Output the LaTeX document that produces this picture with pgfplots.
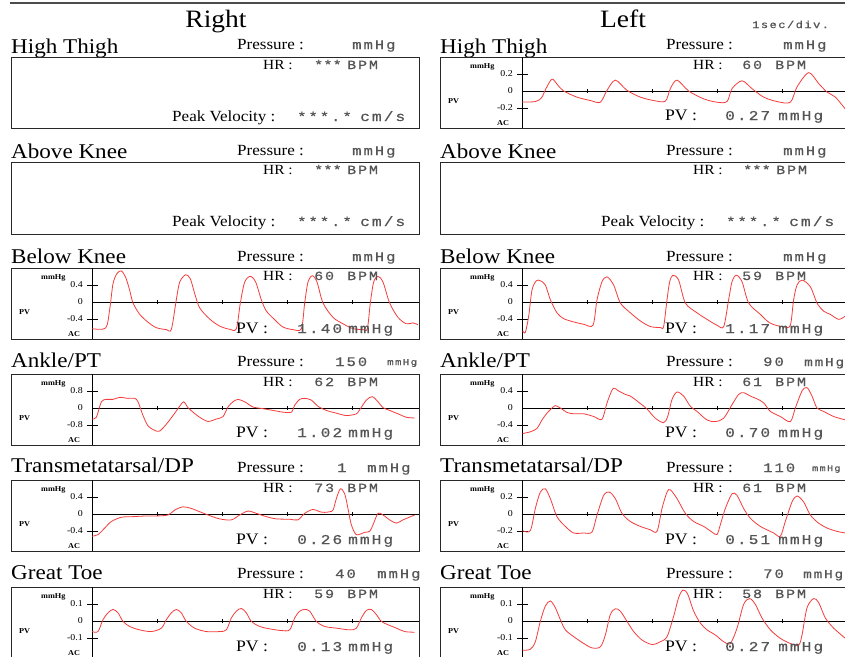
\documentclass[border=0pt]{standalone}
\usepackage{fontspec}
\setmainfont{Liberation Serif}[FakeStretch=1.1]
\newfontfamily\mono{Liberation Mono}[FakeStretch=1.2,LetterSpace=15,FakeBold=0.6]
\usepackage{pgfplots}
\usepackage{pgfplotstable}
\pgfplotsset{compat=1.18}
\definecolor{pvred}{RGB}{245,60,60}
\definecolor{txtgray}{RGB}{85,85,85}
\definecolor{frame}{RGB}{40,40,40}

% ---------- data (t in s, PV in mmHg) ----------
\pgfplotstableread{
t v
0.000 -0.130
0.205 -0.124
0.300 -0.080
0.370 0.030
0.462 0.140
0.550 0.070
0.641 0.000
0.846 -0.072
1.051 -0.112
1.205 -0.132
1.308 0.008
1.436 0.128
1.615 0.008
1.821 -0.072
2.026 -0.112
2.205 -0.120
2.282 0.028
2.385 0.128
2.564 0.000
2.795 -0.092
3.000 -0.132
3.154 -0.124
3.231 0.028
3.385 0.120
3.538 0.028
3.718 -0.072
3.923 -0.124
4.128 -0.132
4.231 0.048
4.410 0.216
4.564 0.088
4.692 -0.012
4.821 -0.072
4.974 -0.212
}\dA
\pgfplotstableread{
t v
0.000 -0.627
0.210 -0.612
0.272 -0.174
0.323 0.430
0.385 0.672
0.451 0.732
0.518 0.581
0.579 0.279
0.631 -0.023
0.733 -0.287
0.862 -0.476
0.990 -0.604
1.144 -0.649
1.221 -0.642
1.297 0.053
1.349 0.468
1.441 0.642
1.513 0.544
1.579 0.204
1.656 -0.136
1.810 -0.400
1.964 -0.566
2.118 -0.642
2.221 -0.627
2.282 -0.023
2.349 0.468
2.436 0.604
2.518 0.468
2.605 0.053
2.682 -0.211
2.810 -0.415
2.938 -0.589
3.092 -0.649
3.221 -0.627
3.272 -0.023
3.323 0.468
3.390 0.619
3.462 0.468
3.554 -0.023
3.708 -0.362
3.862 -0.513
4.015 -0.627
4.169 -0.649
4.236 -0.627
4.282 -0.023
4.333 0.468
4.400 0.604
4.477 0.468
4.579 -0.023
4.708 -0.362
4.836 -0.513
4.938 -0.491
5.015 -0.536
}\dB
\pgfplotstableread{
t v
0.010 -0.677
0.051 -0.715
0.103 -0.331
0.154 0.285
0.221 0.500
0.282 0.500
0.359 0.400
0.436 0.054
0.538 -0.254
0.641 -0.392
0.795 -0.469
0.949 -0.523
1.092 -0.546
1.154 0.054
1.231 0.477
1.308 0.592
1.410 0.400
1.513 -0.023
1.667 -0.254
1.821 -0.446
1.974 -0.577
2.128 -0.600
2.179 -0.577
2.231 0.054
2.272 0.477
2.323 0.631
2.410 0.515
2.513 -0.023
2.692 -0.254
2.846 -0.408
3.000 -0.546
3.103 -0.577
3.179 0.054
3.231 0.477
3.297 0.631
3.385 0.477
3.487 -0.023
3.667 -0.292
3.821 -0.500
4.026 -0.585
4.128 -0.546
4.179 0.054
4.231 0.400
4.308 0.515
4.436 0.361
4.538 -0.023
4.641 -0.215
4.744 -0.292
4.872 -0.408
4.974 -0.331
}\dC
\pgfplotstableread{
t v
0.000 -0.518
0.067 -0.437
0.144 0.292
0.221 0.405
0.323 0.405
0.426 0.502
0.554 0.454
0.656 0.454
0.708 0.292
0.785 -0.356
0.862 -0.842
0.964 -1.053
1.041 -1.085
1.144 -0.761
1.246 -0.356
1.349 0.081
1.410 0.292
1.477 0.016
1.554 -0.194
1.656 -0.437
1.785 -0.632
1.913 -0.518
2.015 -0.405
2.092 0.049
2.169 0.292
2.246 0.405
2.349 0.292
2.477 0.049
2.631 -0.032
2.785 -0.113
2.938 -0.194
3.067 -0.194
3.118 0.130
3.195 0.405
3.272 0.454
3.374 0.373
3.477 0.081
3.605 -0.113
3.759 -0.243
3.913 -0.356
4.067 -0.275
4.118 -0.081
4.221 0.373
4.313 0.535
4.400 0.292
4.477 0.016
4.579 -0.113
4.733 -0.308
4.836 -0.437
4.964 -0.470
}\dD
\pgfplotstableread{
t v
0.010 -0.600
0.128 -0.560
0.231 -0.480
0.308 -0.280
0.385 -0.120
0.462 0.000
0.513 0.056
0.590 0.000
0.692 -0.104
0.795 -0.136
0.949 -0.136
1.103 -0.200
1.231 -0.264
1.308 0.120
1.400 0.456
1.487 0.400
1.590 0.320
1.667 0.280
1.795 0.136
1.923 -0.024
2.051 -0.240
2.179 -0.344
2.241 -0.200
2.308 0.200
2.385 0.376
2.487 0.280
2.590 0.040
2.692 -0.080
2.846 -0.280
2.974 -0.320
3.103 -0.240
3.231 0.080
3.333 0.320
3.410 0.360
3.513 0.280
3.615 0.216
3.718 0.120
3.821 -0.080
3.974 -0.200
4.128 -0.320
4.205 0.000
4.308 0.400
4.385 0.480
4.462 0.280
4.538 0.000
4.641 -0.080
4.795 -0.200
4.974 -0.280
}\dE
\pgfplotstableread{
t v
0.000 -0.523
0.092 -0.485
0.195 -0.331
0.297 -0.177
0.451 -0.077
0.631 -0.062
0.836 -0.046
0.990 -0.046
1.169 -0.023
1.272 0.092
1.400 0.169
1.528 0.131
1.656 0.054
1.785 -0.023
1.964 -0.115
2.144 -0.138
2.272 -0.023
2.400 0.069
2.528 0.015
2.682 -0.062
2.836 -0.115
3.041 -0.123
3.169 -0.138
3.272 0.015
3.400 0.108
3.503 0.054
3.579 0.038
3.656 0.054
3.708 0.092
3.759 0.361
3.821 0.592
3.887 0.477
3.938 0.131
3.990 -0.254
4.067 -0.485
4.195 -0.431
4.272 -0.408
4.323 -0.254
4.400 0.015
4.477 -0.023
4.579 -0.138
4.682 -0.215
4.785 -0.138
4.964 -0.023
}\dF
\pgfplotstableread{
t v
0.010 -0.196
0.128 -0.196
0.205 0.065
0.282 0.258
0.359 0.296
0.436 0.181
0.538 -0.031
0.667 -0.146
0.795 -0.223
0.949 -0.223
1.077 -0.212
1.154 -0.012
1.256 0.219
1.344 0.258
1.436 0.181
1.538 0.008
1.667 -0.088
1.821 -0.146
1.974 -0.185
2.077 -0.204
2.154 0.065
2.231 0.258
2.282 0.285
2.385 0.181
2.513 0.008
2.641 -0.088
2.795 -0.146
2.923 -0.212
3.000 -0.242
3.051 -0.127
3.128 0.065
3.231 0.238
3.308 0.219
3.410 0.065
3.513 -0.050
3.667 -0.146
3.872 -0.223
3.974 -0.262
4.051 -0.088
4.154 0.142
4.231 0.212
4.333 0.142
4.436 -0.012
4.564 -0.108
4.692 -0.165
4.846 -0.204
4.974 -0.223
}\dG
\pgfplotstableread{
t v
0.000 -0.062
0.092 -0.062
0.169 0.008
0.246 0.048
0.323 0.068
0.400 0.048
0.477 -0.002
0.579 -0.032
0.733 -0.052
0.913 -0.062
1.067 -0.042
1.144 0.008
1.221 0.048
1.297 0.068
1.374 0.048
1.451 -0.002
1.579 -0.042
1.759 -0.062
1.964 -0.062
2.067 -0.052
2.144 0.018
2.221 0.058
2.297 0.074
2.374 0.048
2.451 -0.002
2.579 -0.032
2.733 -0.046
2.913 -0.056
3.041 -0.052
3.118 0.018
3.195 0.058
3.272 0.068
3.349 0.058
3.451 -0.002
3.579 -0.032
3.759 -0.042
3.964 -0.052
4.067 -0.042
4.144 0.018
4.221 0.062
4.297 0.068
4.374 0.038
4.451 -0.002
4.554 -0.022
4.682 -0.042
4.810 -0.062
4.964 -0.066
}\dH
\pgfplotstableread{
t v
0.010 -0.172
0.128 -0.166
0.205 -0.122
0.282 -0.002
0.359 0.088
0.436 0.118
0.513 0.078
0.590 0.008
0.667 -0.052
0.795 -0.092
0.949 -0.132
1.077 -0.158
1.205 -0.152
1.282 -0.082
1.359 0.038
1.436 0.072
1.513 0.058
1.615 -0.002
1.718 -0.062
1.846 -0.112
2.000 -0.138
2.128 -0.122
2.231 -0.092
2.333 0.028
2.410 0.138
2.477 0.182
2.549 0.158
2.641 0.058
2.744 -0.012
2.846 -0.052
2.974 -0.082
3.103 -0.122
3.205 -0.132
3.308 -0.042
3.410 0.098
3.503 0.132
3.590 0.098
3.692 0.018
3.821 -0.052
3.974 -0.102
4.128 -0.132
4.256 -0.142
4.308 -0.082
4.385 0.078
4.487 0.132
4.564 0.108
4.667 0.018
4.795 -0.042
4.974 -0.102
}\dI

\pgfplotsset{pvrstyle/.style={anchor=north west, x=65pt,
  xtick=\empty, ytick=\empty, axis line style={frame, line width=0.9pt},
  clip=true}}
\newcommand{\ticklab}{\fontsize{9}{9}\selectfont}
\newcommand{\tinyb}{\fontsize{7.5}{7.5}\selectfont\bfseries}
% #1 box left, #2 box top, #3 xmin, #4 xmax, #5 tick value, #6 ymin, #7 ymax, #8 y unit (pt), #9 table
\newcommand{\pvr}[9]{%
\begin{axis}[pvrstyle, at={(#1pt,-#2pt)}, xmin=#3, xmax=#4, ymin=#6, ymax=#7, y=#8pt]
\draw[black, line width=0.7pt] (axis cs:0,#6) -- (axis cs:0,#7);
\draw[black, line width=0.7pt] (axis cs:0,0) -- (axis cs:#4,0);
\draw[black, line width=0.7pt] ([xshift=-5pt]axis cs:0,#5) -- ([xshift=6pt]axis cs:0,#5);
\draw[black, line width=0.7pt] ([xshift=-5pt]axis cs:0,-#5) -- ([xshift=6pt]axis cs:0,-#5);
\draw[black, line width=0.7pt] ([yshift=-2pt]axis cs:1,0) -- ([yshift=2pt]axis cs:1,0);
\draw[black, line width=0.7pt] ([yshift=-2pt]axis cs:2,0) -- ([yshift=2pt]axis cs:2,0);
\draw[black, line width=0.7pt] ([yshift=-2pt]axis cs:3,0) -- ([yshift=2pt]axis cs:3,0);
\draw[black, line width=0.7pt] ([yshift=-2pt]axis cs:4,0) -- ([yshift=2pt]axis cs:4,0);
\node[anchor=east, inner sep=0, font=\ticklab, xshift=-9pt] at (axis cs:0,#5) {#5};
\node[anchor=east, inner sep=0, font=\ticklab, xshift=-9pt] at (axis cs:0,0) {0};
\node[anchor=east, inner sep=0, font=\ticklab, xshift=-9pt] at (axis cs:0,-#5) {-#5};
\addplot[pvred, line width=0.8pt, smooth, tension=0.5] table[x=t,y=v] {#9};
\end{axis}
\node[anchor=base west, inner sep=0, font=\tinyb] at ({#1pt+30pt},{-#2pt-11pt}) {mmHg};
\node[anchor=west, inner sep=0, font=\tinyb] at ({#1pt+8pt},{-#2pt-44pt}) {PV};
\node[anchor=west, inner sep=0, font=\tinyb] at ({#1pt+57pt},{-#2pt-66pt}) {AC};
}
% text helpers: serif at (x, baseline) size
\newcommand{\st}[4]{\node[anchor=base west, inner sep=0] at (#1pt,-#2pt) {\fontsize{#3}{#3}\selectfont #4};}
\newcommand{\mt}[4]{\node[anchor=base west, inner sep=0, text=txtgray] at (#1pt,-#2pt) {\mono\fontsize{#3}{#3}\selectfont #4};}
\newcommand{\mst}[3]{\node[anchor=base west, inner sep=0, text=txtgray] at (#1pt,-#2pt) {\mono\addfontfeature{LetterSpace=2}\fontsize{#3}{#3}\selectfont ***};}
% panel header: #1 box left, #2 title baseline, #3 pressure baseline, #4 title
\newcommand{\hdr}[4]{\st{#1}{#2}{21}{#4}\st{\fpeval{#1+226}}{#3}{15.5}{Pressure :}}

\begin{document}
\begin{tikzpicture}[x=1pt,y=1pt]
\useasboundingbox (0,0) rectangle (845pt,-656pt);
\clip (0,0) rectangle (845pt,-656pt);
\fill[white] (0,0) rectangle (845pt,-656pt);
\draw[line width=1.5pt, black!70] (10pt,-3pt) -- (850pt,-3pt);
\node[anchor=base, inner sep=0] at (216pt,-27pt) {\fontsize{25}{25}\selectfont Right};
\node[anchor=base, inner sep=0] at (623pt,-27pt) {\fontsize{25}{25}\selectfont Left};
\mt{752}{28}{10}{1sec/div.}

% ===== Row 1: High Thigh =====
\hdr{11}{53}{49}{High Thigh}
\mt{352}{49}{13}{mmHg}
\draw[frame, line width=0.9pt] (11pt,-57pt) rectangle (419pt,-128pt);
\st{263}{69}{14}{HR :}\mst{314}{69}{12.5}\mt{347}{69}{12.5}{BPM}
\st{172}{121}{15.5}{Peak Velocity :}\mt{297}{121}{13}{***.*}\mt{360}{121}{13.5}{cm/s}

\hdr{440}{53}{49}{High Thigh}
\mt{783}{49}{13}{mmHg}
\pvr{440}{57}{-1.2615}{5.0}{0.2}{-0.4353}{0.4}{85}{\dA}
\st{693}{69}{14}{HR :}\mt{742}{69}{12.5}{60}\mt{775}{69}{12.5}{BPM}
\st{665}{120}{16}{PV :}\mt{725}{120}{13.5}{0.27}\mt{778}{120}{13.5}{mmHg}

% ===== Row 2: Above Knee =====
\hdr{11}{158}{155}{Above Knee}
\mt{352}{155}{13}{mmHg}
\draw[frame, line width=0.9pt] (11pt,-162pt) rectangle (419pt,-234pt);
\st{263}{174}{14}{HR :}\mst{314}{174}{12.5}\mt{347}{174}{12.5}{BPM}
\st{172}{226}{15.5}{Peak Velocity :}\mt{297}{226}{13}{***.*}\mt{360}{226}{13.5}{cm/s}

\hdr{440}{158}{155}{Above Knee}
\mt{783}{155}{13}{mmHg}
\draw[frame, line width=0.9pt] (440pt,-162pt) rectangle (850pt,-234pt);
\st{693}{174}{14}{HR :}\mst{743}{174}{12.5}\mt{776}{174}{12.5}{BPM}
\st{601}{226}{15.5}{Peak Velocity :}\mt{726}{226}{13}{***.*}\mt{789}{226}{13.5}{cm/s}

% ===== Row 3: Below Knee =====
\hdr{11}{263}{261}{Below Knee}
\mt{352}{261}{13}{mmHg}
\pvr{11}{268}{-1.2462}{5.0308}{0.4}{-0.8706}{0.8}{42.5}{\dB}
\st{263}{280}{14}{HR :}\mt{314}{280}{12.5}{60}\mt{347}{280}{12.5}{BPM}
\st{236}{333}{16}{PV :}\mt{297}{333}{13.5}{1.40}\mt{348}{333}{13.5}{mmHg}

\hdr{440}{263}{261}{Below Knee}
\mt{783}{261}{13}{mmHg}
\pvr{440}{268}{-1.2615}{5.0}{0.4}{-0.8706}{0.8}{42.5}{\dC}
\st{693}{280}{14}{HR :}\mt{742}{280}{12.5}{59}\mt{775}{280}{12.5}{BPM}
\st{665}{333}{16}{PV :}\mt{725}{333}{13.5}{1.17}\mt{778}{333}{13.5}{mmHg}

% ===== Row 4: Ankle/PT =====
\hdr{11}{367}{366}{Ankle/PT}
\mt{335}{366}{13}{150}\mt{387}{365}{9}{mmHg}
\pvr{11}{374}{-1.2462}{5.0308}{0.8}{-1.7412}{1.6}{21.25}{\dD}
\st{263}{386}{14}{HR :}\mt{314}{386}{12.5}{62}\mt{347}{386}{12.5}{BPM}
\st{236}{437}{16}{PV :}\mt{297}{437}{13.5}{1.02}\mt{348}{437}{13.5}{mmHg}

\hdr{440}{367}{366}{Ankle/PT}
\mt{763}{366}{13}{90}\mt{804}{366}{12}{mmHg}
\pvr{440}{374}{-1.2615}{5.0}{0.4}{-0.8706}{0.8}{42.5}{\dE}
\st{693}{386}{14}{HR :}\mt{742}{386}{12.5}{61}\mt{775}{386}{12.5}{BPM}
\st{665}{437}{16}{PV :}\mt{725}{437}{13.5}{0.70}\mt{778}{437}{13.5}{mmHg}

% ===== Row 5: Transmetatarsal/DP =====
\hdr{11}{472}{472}{Transmetatarsal/DP}
\mt{337}{472}{13}{1}\mt{367}{472}{13}{mmHg}
\pvr{11}{480}{-1.2462}{5.0308}{0.4}{-0.8706}{0.8}{42.5}{\dF}
\st{263}{492}{14}{HR :}\mt{314}{492}{12.5}{73}\mt{347}{492}{12.5}{BPM}
\st{236}{544}{16}{PV :}\mt{297}{544}{13.5}{0.26}\mt{348}{544}{13.5}{mmHg}

\hdr{440}{472}{472}{Transmetatarsal/DP}
\mt{763}{472}{13}{110}\mt{812}{471}{8.5}{mmHg}
\pvr{440}{480}{-1.2615}{5.0}{0.2}{-0.4353}{0.4}{85}{\dG}
\st{693}{492}{14}{HR :}\mt{742}{492}{12.5}{61}\mt{775}{492}{12.5}{BPM}
\st{665}{544}{16}{PV :}\mt{725}{544}{13.5}{0.51}\mt{778}{544}{13.5}{mmHg}

% ===== Row 6: Great Toe =====
\hdr{11}{579}{578}{Great Toe}
\mt{335}{578}{13}{40}\mt{377}{578}{13}{mmHg}
\pvr{11}{587}{-1.2462}{5.0308}{0.1}{-0.2176}{0.2}{170}{\dH}
\st{263}{598}{14}{HR :}\mt{314}{598}{12.5}{59}\mt{347}{598}{12.5}{BPM}
\st{236}{651}{16}{PV :}\mt{297}{651}{13.5}{0.13}\mt{348}{651}{13.5}{mmHg}

\hdr{440}{579}{578}{Great Toe}
\mt{763}{578}{13}{70}\mt{803}{578}{12}{mmHg}
\pvr{440}{587}{-1.2615}{5.0}{0.1}{-0.2176}{0.2}{170}{\dI}
\st{693}{598}{14}{HR :}\mt{742}{598}{12.5}{58}\mt{775}{598}{12.5}{BPM}
\st{665}{651}{16}{PV :}\mt{725}{651}{13.5}{0.27}\mt{778}{651}{13.5}{mmHg}
\end{tikzpicture}
\end{document}
